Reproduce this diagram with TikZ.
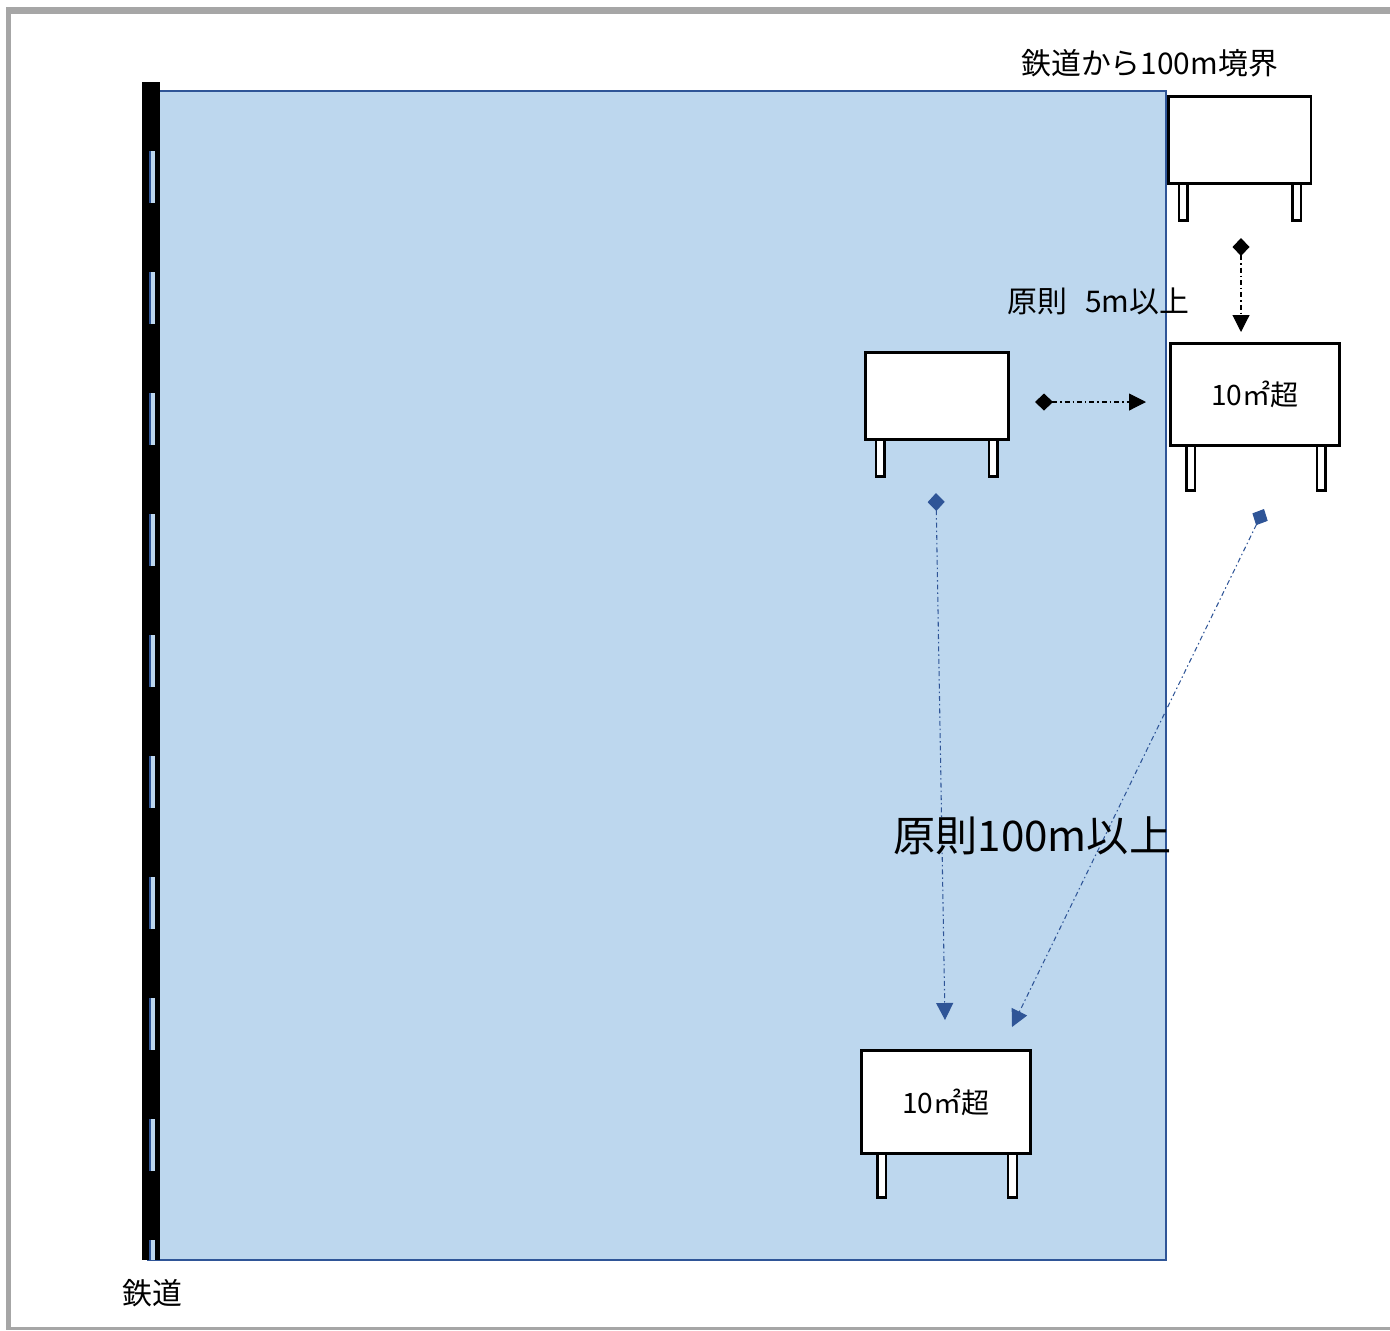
\documentclass[tikz,border=0pt]{standalone}
\usepackage{fontspec}
\setmainfont{Noto Sans CJK JP}
\usepackage{tikz}
\usetikzlibrary{positioning,arrows.meta}
\definecolor{areablue}{RGB}{189,215,238}
\definecolor{lineblue}{RGB}{47,85,151}
\definecolor{framegray}{RGB}{166,166,166}

\begin{document}
\begin{tikzpicture}[x=0.02cm, y=-0.02cm,
 board/.style={draw, fill=white, line width=1.7pt, inner sep=0pt, outer sep=0pt, font=\fontsize{16}{19}\selectfont},
 leg/.style={draw, fill=white, line width=1.4pt, minimum width=0.17cm, inner sep=0pt, outer sep=0pt},
 gap/.style={line width=0.6pt, dash pattern=on 2.8pt off 1.7pt on 0.85pt off 1.7pt,
   {Diamond[length=0.36cm,width=0.34cm]}-{Triangle[length=0.34cm,width=0.34cm]}},
 lbl/.style={inner sep=0pt, font=\fontsize{17}{20}\selectfont}]
\useasboundingbox (0,0) rectangle (1390,1330);
%----------------------------------
\fill[framegray] (6,7) rectangle (1400,14);
\fill[framegray] (6,7) rectangle (11,1330);
\fill[framegray] (6,1327) rectangle (1400,1330);
%----------------------------------
\draw[lineblue, line width=1.1pt, fill=areablue] (148,91) rectangle (1166,1260); %100m
%----------------------------------
\fill (142,82) rectangle (160,1260); %rail
\foreach \y in {151,272,...,1119}{
 \fill[areablue] (149,\y) rectangle (155,\y+52);
 \draw[lineblue, line width=0.8pt] (150,\y) -- (150,\y+52);
}
\fill[areablue] (149,1240) rectangle (155,1260);
\draw[lineblue, line width=0.8pt] (150,1240) -- (150,1260);
%----------------------------------
\node[board, minimum width=2.86cm, minimum height=1.74cm] (sA) at (1239.5,140) {};
\node[leg, minimum height=0.74cm, below right=0cm and 0.22cm of sA.south west] (sA1) {};
\node[leg, minimum height=0.74cm, below left=0cm and 0.2cm of sA.south east] (sA2) {};
%----------------------------------
\node[board, minimum width=3.38cm, minimum height=2.04cm] (sB) at (1255,394.5) {10㎡超};
\node[leg, minimum height=0.9cm, below right=0cm and 0.32cm of sB.south west] (sB1) {};
\node[leg, minimum height=0.9cm, below left=0cm and 0.28cm of sB.south east] (sB2) {};
%----------------------------------
\node[board, minimum width=2.86cm, minimum height=1.74cm] (sC) at (937,396) {};
\node[leg, minimum height=0.74cm, below right=0cm and 0.21cm of sC.south west] (sC1) {};
\node[leg, minimum height=0.74cm, below left=0cm and 0.22cm of sC.south east] (sC2) {};
%----------------------------------
\node[board, minimum width=3.39cm, minimum height=2.06cm] (sD) at (946,1102) {10㎡超};
\node[leg, minimum height=0.88cm, below right=0cm and 0.32cm of sD.south west] (sD1) {};
\node[leg, minimum height=0.88cm, below left=0cm and 0.28cm of sD.south east] (sD2) {};
%----------------------------------
\coordinate (n1) at (1241,238); \coordinate (n2) at (1241,332);
\coordinate (h1) at (1035,402); \coordinate (h2) at (1146,402);
\coordinate (v1) at (936,493); \coordinate (v2) at (945,1020);
\coordinate (d1) at (1264,509); \coordinate (d2) at (1012,1027);
\draw[gap] (n1) -- (n2);
\draw[gap] (h1) -- (h2);
\draw[gap, lineblue] (v1) -- (v2);
\draw[gap, lineblue] (d1) -- (d2);
%----------------------------------
\node[lbl, anchor=west] (line) at (1021,63) {鉄道から100m境界};
\node[lbl] (rail) at (152,1293) {鉄道};
\node[lbl, anchor=west] (near) at (1007,301) {原則\hspace{0.6em}5m以上};
\node[lbl, font=\fontsize{24}{28}\selectfont, anchor=west] (far) at (893,836) {原則100m以上};
\end{tikzpicture}
\end{document}
